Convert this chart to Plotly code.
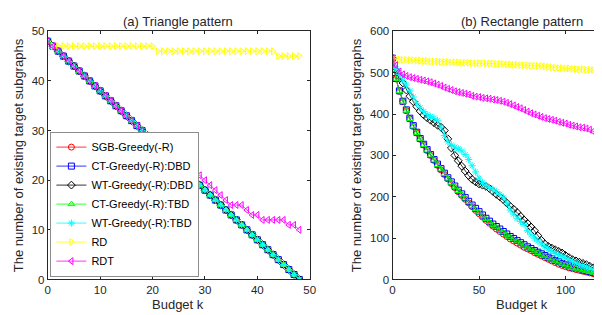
import plotly.graph_objects as go

# ---------------- data: (a) Triangle pattern ----------------
k_tri = list(range(0, 49))
tri_greedy = [48, 47, 46, 45, 44, 43, 42, 41, 40, 39, 38, 37, 36, 35, 34, 33, 32,
              31, 30, 29, 28, 27, 26, 25, 24, 23, 22, 21, 20, 19, 18, 17, 16, 15,
              14, 13, 12, 11, 10, 9, 8, 7, 6, 5, 4, 3, 2, 1, 0]
tri_rd = [48] + [47] * 20 + [46] * 23 + [45] * 5
tri_rdt = [48, 47, 46, 45, 44, 43, 42, 41, 40, 39, 38, 37, 36, 35, 34, 33, 32,
           31, 30, 29, 28, 27, 26, 25, 24, 23, 22,
           21, 21, 21, 20, 19, 18, 17, 16, 15, 15, 15, 14, 13, 13, 12, 12, 12,
           12, 12, 11, 11, 10]

# ---------------- data: (b) Rectangle pattern ----------------
k_rect = list(range(0, 123, 2))
rect_sgb = [535, 485, 455, 430, 408, 388, 370, 354, 339, 325, 312, 300, 288, 276,
            265, 254, 243, 232, 222, 212, 203, 194, 185, 176, 167, 159, 151, 143,
            136, 129, 122, 116, 110, 104, 98, 93, 88, 83, 78, 74, 70, 65, 61, 57,
            53, 49, 45, 41, 37, 34, 31, 28, 26, 24, 22, 20, 18, 16, 14, 11, 9, 7]
rect_ct_dbd = [535, 486, 456, 431, 410, 390, 372, 356, 341, 327, 314, 302, 290, 279,
               268, 257, 246, 236, 226, 216, 207, 198, 189, 180, 172, 164, 156, 148,
               141, 134, 128, 122, 116, 110, 104, 99, 94, 89, 84, 79, 75, 70, 66,
               62, 58, 54, 50, 46, 43, 39, 36, 33, 30, 28, 26, 23, 21, 19, 17, 14,
               12, 10]
rect_wt_dbd = [535, 505, 490, 475, 458, 443, 430, 418, 407, 398, 391, 385, 379, 373,
               368, 360, 340, 318, 300, 287, 274, 262, 251, 242, 236, 231, 228, 225,
               220, 213, 206, 200, 193, 185, 177, 170, 162, 153, 144, 136, 127, 118,
               106, 95, 86, 80, 76, 72, 68, 64, 58, 53, 48, 45, 42, 39, 36, 32, 28,
               24, 19, 14]
rect_ct_tbd = [535, 485, 455, 430, 408, 388, 370, 354, 339, 325, 312, 300, 288, 277,
               266, 255, 244, 234, 224, 214, 205, 196, 187, 178, 170, 162, 154, 146,
               139, 132, 126, 120, 114, 108, 102, 97, 92, 87, 82, 77, 73, 68, 64, 60,
               56, 52, 48, 44, 41, 37, 34, 31, 28, 26, 24, 22, 20, 18, 16, 13, 11, 9]
rect_wt_tbd = [535, 510, 495, 482, 470, 456, 441, 426, 415, 406, 399, 394, 390, 385,
               368, 348, 333, 325, 320, 316, 311, 302, 290, 275, 260, 245, 234, 227,
               222, 218, 212, 206, 199, 185, 168, 158, 148, 140, 133, 118, 108, 100,
               93, 86, 80, 74, 68, 63, 59, 56, 52, 48, 44, 40, 36, 33, 30, 27, 24, 21,
               18, 15]
rect_rd = [535, 533, 532, 531, 531, 530, 530, 529, 529, 528, 528, 527, 527, 527,
           526, 526, 526, 525, 525, 525, 524, 524, 524, 523, 523, 523, 523, 522,
           522, 522, 521, 521, 521, 520, 520, 519, 519, 518, 518, 518, 517, 517,
           516, 516, 515, 514, 513, 512, 511, 511, 510, 510, 509, 509, 508, 508,
           507, 507, 506, 506, 505, 505]
rect_rdt = [535, 518, 503, 496, 492, 489, 487, 485, 483, 481, 479, 477, 474, 471,
            468, 464, 461, 458, 455, 453, 451, 449, 447, 444, 442, 441, 439, 438,
            437, 435, 434, 432, 430, 427, 424, 421, 417, 414, 410, 406, 402, 399,
            396, 393, 390, 388, 386, 384, 381, 379, 377, 374, 372, 370, 368, 367,
            365, 362, 358, 354, 350, 346]

names = ["SGB-Greedy(-R)", "CT-Greedy(-R):DBD", "WT-Greedy(-R):DBD",
         "CT-Greedy(-R):TBD", "WT-Greedy(-R):TBD", "RD", "RDT"]
colors = ["#ff0000", "#0000ff", "#000000", "#00ff00", "#00ffff", "#ffff00", "#ff00ff"]
symbols = ["circle-open", "square-open", "diamond-open", "triangle-up-open",
           "asterisk-open", "triangle-right-open", "triangle-left-open"]

tri_series = [tri_greedy, tri_greedy, tri_greedy, tri_greedy, tri_greedy, tri_rd, tri_rdt]
rect_series = [rect_sgb, rect_ct_dbd, rect_wt_dbd, rect_ct_tbd, rect_wt_tbd, rect_rd, rect_rdt]

FONT = "Liberation Sans, Arial, sans-serif"
TXT = "#262626"
W, H = 602, 315

fig = go.Figure()
for i in range(7):
    fig.add_trace(go.Scatter(
        x=k_tri, y=tri_series[i], name=names[i], mode="lines+markers",
        line=dict(color=colors[i], width=0.8),
        marker=dict(symbol=symbols[i], color=colors[i], size=6, line=dict(width=1, color=colors[i])),
        xaxis="x", yaxis="y", showlegend=True))
for i in range(7):
    fig.add_trace(go.Scatter(
        x=k_rect, y=rect_series[i], name=names[i], mode="lines+markers",
        line=dict(color=colors[i], width=0.8),
        marker=dict(symbol=symbols[i], color=colors[i], size=6, line=dict(width=1, color=colors[i])),
        xaxis="x2", yaxis="y2", showlegend=False))

def px(x):
    return x / W

def py(y):
    return (H - y) / H

axis_common = dict(showgrid=False, zeroline=False, showline=True, linecolor=TXT,
                   linewidth=1, ticks="inside", ticklen=3, tickcolor=TXT,
                   tickfont=dict(family=FONT, size=11.5, color=TXT))

fig.update_layout(
    width=W, height=H, margin=dict(l=0, r=0, t=0, b=0),
    paper_bgcolor="white", plot_bgcolor="white",
    font=dict(family=FONT, color=TXT),
    xaxis=dict(domain=[px(37.3), px(303.3)], range=[0, 50], tickvals=[0, 10, 20, 30, 40, 50],
               mirror="ticks", anchor="y", **axis_common),
    yaxis=dict(domain=[py(276), py(18)], range=[0, 50], tickvals=[0, 10, 20, 30, 40, 50],
               mirror="ticks", anchor="x", **axis_common),
    xaxis2=dict(domain=[px(387.3), 1.0], range=[0, 122.2], tickvals=[0, 50, 100],
                mirror="ticks", anchor="y2", **axis_common),
    yaxis2=dict(domain=[py(276), py(18)], range=[0, 600], tickvals=[0, 100, 200, 300, 400, 500, 600],
                mirror=False, anchor="x2", **axis_common),
    legend=dict(x=px(40), y=py(273), xanchor="left", yanchor="bottom",
                bgcolor="white", bordercolor="#8c8c8c", borderwidth=1,
                font=dict(family=FONT, size=11, color="#000000"),
                tracegroupgap=0, itemwidth=30),
    showlegend=True,
)

ann = [
    dict(text="(a) Triangle pattern", x=px(170), y=py(8), font=dict(size=13)),
    dict(text="(b) Rectangle pattern", x=px(518.5), y=py(8), font=dict(size=13)),
    dict(text="Budget k", x=px(170), y=py(302), font=dict(size=13)),
    dict(text="Budget k", x=px(519), y=py(302), font=dict(size=13)),
    dict(text="The number of existing target subgraphs", x=px(8), y=py(147),
         textangle=-90, font=dict(size=13)),
    dict(text="The number of existing target subgraphs", x=px(351), y=py(147),
         textangle=-90, font=dict(size=13)),
]
for a in ann:
    fig.add_annotation(xref="paper", yref="paper", showarrow=False,
                       xanchor="center", yanchor="middle",
                       x=a["x"], y=a["y"], text=a["text"], textangle=a.get("textangle", 0),
                       font=dict(family=FONT, color=TXT, size=a["font"]["size"]))

fig.write_html("out.html")
